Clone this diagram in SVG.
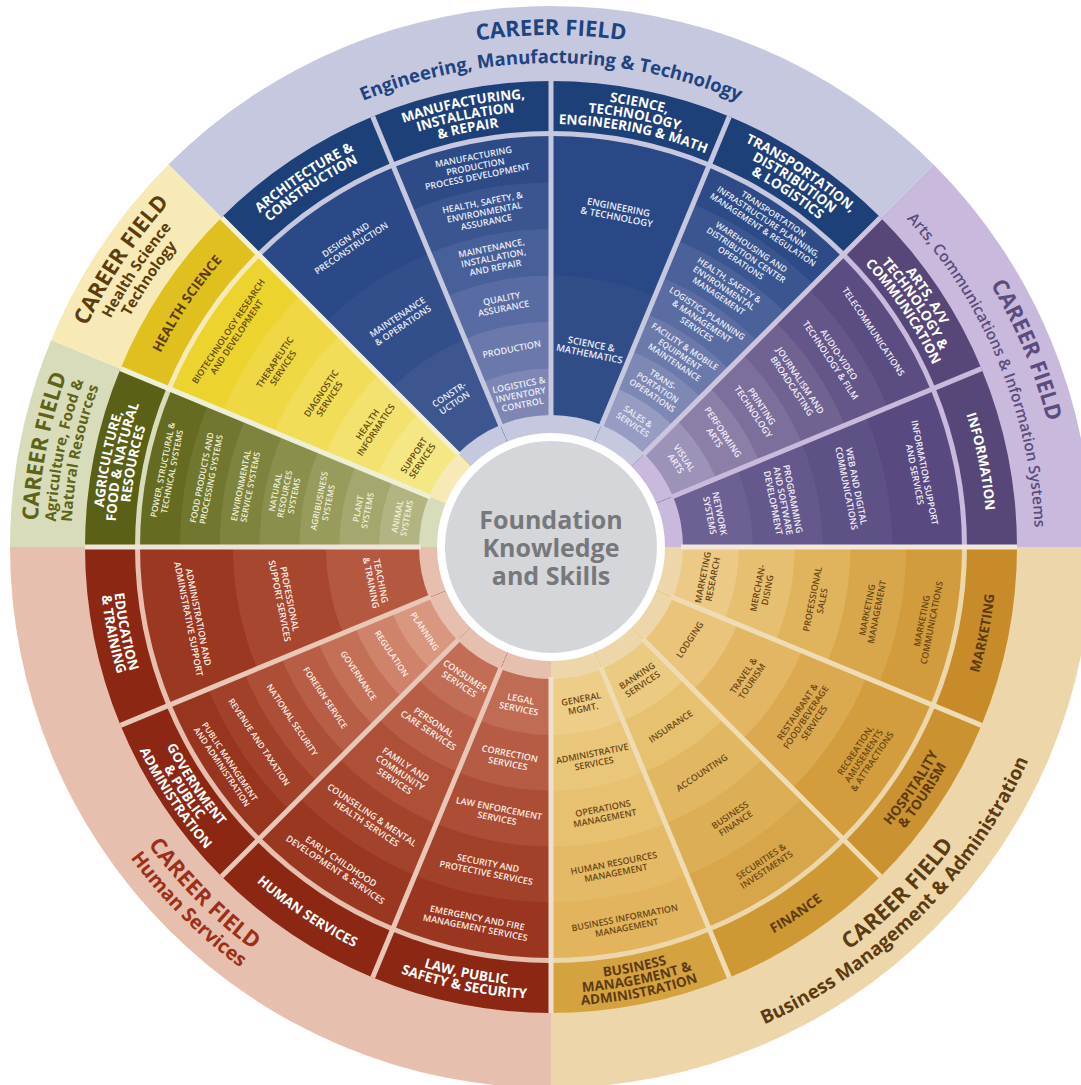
<svg xmlns="http://www.w3.org/2000/svg" width="1081" height="1085" viewBox="0 0 1081 1085">
<style>
text{font-family:'Open Sans','Liberation Sans',sans-serif;text-anchor:middle}
.cl{font-weight:700;font-size:13.5px}
.pw{font-weight:600;font-size:9px}
.p7{font-weight:600;font-size:8.5px}
.cf{font-weight:700;font-size:22px}
.sub{font-weight:700;font-size:18.5px}
.wt{fill:#ffffff}
.pe{fill:#e9ecf6}
.pa{fill:#f1edf8}
.pb{fill:#6a4716}
.cb{fill:#5d3b0f}
.ph{fill:#fbefe9}
.pg{fill:#eef0d8}
.py{fill:#5e4a10}
.sep line{stroke-width:5}
</style>
<defs>
<clipPath id="w"><path d="M0 0L-91.69 -460.97A470 470 0 0 1 91.69 -460.97Z"/></clipPath>
<path id="cT423" d="M-211.5 -366.3A423 423 0 0 1 211.5 -366.3"/>
<path id="cT430" d="M-215 -372.4A430 430 0 0 1 215 -372.4"/>
<path id="cT436" d="M-218 -377.6A436 436 0 0 1 218 -377.6"/>
<path id="cT443" d="M-221.5 -383.6A443 443 0 0 1 221.5 -383.6"/>
<path id="cT449" d="M-224.5 -388.8A449 449 0 0 1 224.5 -388.8"/>
<path id="cB433" d="M-216.5 375A433 433 0 0 0 216.5 375"/>
<path id="cB439" d="M-219.5 380.2A439 439 0 0 0 219.5 380.2"/>
<path id="cB446" d="M-223 386.2A446 446 0 0 0 223 386.2"/>
<path id="cB452" d="M-226 391.4A452 452 0 0 0 226 391.4"/>
<path id="cB459" d="M-229.5 397.5A459 459 0 0 0 229.5 397.5"/>
<path id="fT512" d="M-329.1 -392.2A512 512 0 0 1 329.1 -392.2"/>
<path id="fT484" d="M-311.1 -370.7A484 484 0 0 1 311.1 -370.7"/>
<path id="fT514" d="M-330.4 -393.7A514 514 0 0 1 330.4 -393.7"/>
<path id="fT496" d="M-318.8 -379.9A496 496 0 0 1 318.8 -379.9"/>
<path id="fT480" d="M-308.5 -367.7A480 480 0 0 1 308.5 -367.7"/>
<path id="fB501" d="M-322 383.8A501 501 0 0 0 322 383.8"/>
<path id="fB523" d="M-336.2 400.6A523 523 0 0 0 336.2 400.6"/>
</defs>
<rect width="1081" height="1085" fill="#ffffff"/>

<g id="career-fields">
<path id="field-engineering" d="M551 547L168.46 164.46A541 541 0 0 1 933.54 164.46Z" fill="#c6c8df"/>
<path id="field-arts" d="M551 547L933.54 164.46A541 541 0 0 1 1092 547Z" fill="#c9b9dc"/>
<path id="field-business" d="M551 547L1092 547A541 541 0 0 1 551 1088Z" fill="#eed6ab"/>
<path id="field-human" d="M551 547L551 1088A541 541 0 0 1 10 547Z" fill="#e7bfae"/>
<path id="field-agriculture" d="M551 547L10 547A541 541 0 0 1 51.18 339.97Z" fill="#d9dcbb"/>
<path id="field-health" d="M551 547L51.18 339.97A541 541 0 0 1 168.46 164.46Z" fill="#f7eab6"/>
</g>

<g id="architecture-construction">
<g transform="translate(551 547) rotate(-33.75)"><g clip-path="url(#w)">
<circle r="466" fill="#1e4079"/><circle r="416" fill="#c6c8df"/>
<circle r="411" fill="#2b4986"/><circle r="318" fill="#334f8b"/><circle r="225" fill="#3d5690"/>
<circle r="132" fill="#c6c8df"/></g>
<text class="cl wt"><textPath href="#cT443" startOffset="50%">ARCHITECTURE &amp;</textPath></text>
<text class="cl wt"><textPath href="#cT430" startOffset="50%">CONSTRUCTION</textPath></text>
<text class="pw pe" x="0" y="-366.3">DESIGN AND<tspan x="0" dy="10">PRECONSTRUCTION</tspan></text>
<text class="pw pe" x="0" y="-273.3">MAINTENANCE<tspan x="0" dy="10">&amp; OPERATIONS</tspan></text>
<text class="pw pe" x="0" y="-180.3">CONSTR-<tspan x="0" dy="10">UCTION</tspan></text>
</g></g>

<g id="manufacturing">
<g transform="translate(551 547) rotate(-11.25)"><g clip-path="url(#w)">
<circle r="466" fill="#1e4079"/><circle r="416" fill="#c6c8df"/>
<circle r="411" fill="#2e4b87"/><circle r="364.5" fill="#3a5590"/><circle r="318" fill="#47609a"/><circle r="271.5" fill="#586ba2"/><circle r="225" fill="#6a78ab"/><circle r="178.5" fill="#7e87b4"/>
<circle r="132" fill="#c6c8df"/></g>
<text class="cl wt"><textPath href="#cT449" startOffset="50%">MANUFACTURING,</textPath></text>
<text class="cl wt"><textPath href="#cT436" startOffset="50%">INSTALLATION</textPath></text>
<text class="cl wt"><textPath href="#cT423" startOffset="50%">&amp; REPAIR</textPath></text>
<text class="pw pe" x="0" y="-394.6">MANUFACTURING<tspan x="0" dy="10">PRODUCTION</tspan><tspan x="0" dy="10">PROCESS DEVELOPMENT</tspan></text>
<text class="pw pe" x="0" y="-348.1">HEALTH, SAFETY, &amp;<tspan x="0" dy="10">ENVIRONMENTAL</tspan><tspan x="0" dy="10">ASSURANCE</tspan></text>
<text class="pw pe" x="0" y="-301.6">MAINTENANCE,<tspan x="0" dy="10">INSTALLATION,</tspan><tspan x="0" dy="10">AND REPAIR</tspan></text>
<text class="pw pe" x="0" y="-250.1">QUALITY<tspan x="0" dy="10">ASSURANCE</tspan></text>
<text class="pw pe" x="0" y="-198.6">PRODUCTION</text>
<text class="pw pe" x="0" y="-162.1">LOGISTICS &amp;<tspan x="0" dy="10">INVENTORY</tspan><tspan x="0" dy="10">CONTROL</tspan></text>
</g></g>

<g id="stem">
<g transform="translate(551 547) rotate(11.25)"><g clip-path="url(#w)">
<circle r="466" fill="#1e4079"/><circle r="416" fill="#c6c8df"/>
<circle r="411" fill="#2a4885"/><circle r="271.5" fill="#304d88"/>
<circle r="132" fill="#c6c8df"/></g>
<text class="cl wt"><textPath href="#cT449" startOffset="50%">SCIENCE,</textPath></text>
<text class="cl wt"><textPath href="#cT436" startOffset="50%">TECHNOLOGY,</textPath></text>
<text class="cl wt"><textPath href="#cT423" startOffset="50%">ENGINEERING &amp; MATH</textPath></text>
<text class="pw pe" x="0" y="-343.1" style="font-size:9.5px">ENGINEERING<tspan x="0" dy="10">&amp; TECHNOLOGY</tspan></text>
<text class="pw pe" x="0" y="-203.6" style="font-size:9.5px">SCIENCE &amp;<tspan x="0" dy="10">MATHEMATICS</tspan></text>
</g></g>

<g id="transportation">
<g transform="translate(551 547) rotate(33.75)"><g clip-path="url(#w)">
<circle r="466" fill="#1e4079"/><circle r="416" fill="#c6c8df"/>
<circle r="411" fill="#2e4b87"/><circle r="371.1" fill="#3b5590"/><circle r="331.3" fill="#4a6199"/><circle r="291.4" fill="#5a6ca2"/><circle r="251.6" fill="#6b7aab"/><circle r="211.7" fill="#7e88b4"/><circle r="171.9" fill="#979cc2"/>
<circle r="132" fill="#c6c8df"/></g>
<text class="cl wt"><textPath href="#cT449" startOffset="50%">TRANSPORTATION,</textPath></text>
<text class="cl wt"><textPath href="#cT436" startOffset="50%">DISTRIBUTION</textPath></text>
<text class="cl wt"><textPath href="#cT423" startOffset="50%">&amp; LOGISTICS</textPath></text>
<text class="p7 pe" x="0" y="-397.6">TRANSPORTATION<tspan x="0" dy="9.5">INFRASTRUCTURE PLANNING,</tspan><tspan x="0" dy="9.5">MANAGEMENT &amp; REGULATION</tspan></text>
<text class="p7 pe" x="0" y="-357.7">WAREHOUSING AND<tspan x="0" dy="9.5">DISTRIBUTION CENTER</tspan><tspan x="0" dy="9.5">OPERATIONS</tspan></text>
<text class="p7 pe" x="0" y="-317.9">HEALTH, SAFETY &amp;<tspan x="0" dy="9.5">ENVIRONMENTAL</tspan><tspan x="0" dy="9.5">MANAGEMENT</tspan></text>
<text class="p7 pe" x="0" y="-278">LOGISTICS PLANNING<tspan x="0" dy="9.5">&amp; MANAGEMENT</tspan><tspan x="0" dy="9.5">SERVICES</tspan></text>
<text class="p7 pe" x="0" y="-238.1">FACILITY &amp; MOBILE<tspan x="0" dy="9.5">EQUIPMENT</tspan><tspan x="0" dy="9.5">MAINTENANCE</tspan></text>
<text class="p7 pe" x="0" y="-198.3">TRANS-<tspan x="0" dy="9.5">PORTATION</tspan><tspan x="0" dy="9.5">OPERATIONS</tspan></text>
<text class="p7 pe" x="0" y="-153.7">SALES &amp;<tspan x="0" dy="9.5">SERVICES</tspan></text>
</g></g>

<g id="arts-av">
<g transform="translate(551 547) rotate(56.25)"><g clip-path="url(#w)">
<circle r="466" fill="#574779"/><circle r="416" fill="#c9b9dc"/>
<circle r="411" fill="#5b4c82"/><circle r="364.5" fill="#655689"/><circle r="318" fill="#706291"/><circle r="271.5" fill="#7c6f9b"/><circle r="225" fill="#8b7fa8"/><circle r="178.5" fill="#9d92b8"/>
<circle r="132" fill="#c9b9dc"/></g>
<text class="cl wt"><textPath href="#cT449" startOffset="50%">ARTS, A/V</textPath></text>
<text class="cl wt"><textPath href="#cT436" startOffset="50%">TECHNOLOGY &amp;</textPath></text>
<text class="cl wt"><textPath href="#cT423" startOffset="50%">COMMUNICATION</textPath></text>
<text class="pw pa" x="0" y="-384.6">TELECOMMUNICATIONS</text>
<text class="pw pa" x="0" y="-343.1">AUDIO-VIDEO<tspan x="0" dy="10">TECHNOLOGY &amp; FILM</tspan></text>
<text class="pw pa" x="0" y="-296.6">JOURNALISM AND<tspan x="0" dy="10">BROADCASTING</tspan></text>
<text class="pw pa" x="0" y="-250.1">PRINTING<tspan x="0" dy="10">TECHNOLOGY</tspan></text>
<text class="pw pa" x="0" y="-203.6">PERFORMING<tspan x="0" dy="10">ARTS</tspan></text>
<text class="pw pa" x="0" y="-157.1">VISUAL<tspan x="0" dy="10">ARTS</tspan></text>
</g></g>

<g id="information">
<g transform="translate(551 547) rotate(78.75)"><g clip-path="url(#w)">
<circle r="466" fill="#574779"/><circle r="416" fill="#c9b9dc"/>
<circle r="411" fill="#584a80"/><circle r="341.25" fill="#5e5186"/><circle r="271.5" fill="#65588c"/><circle r="201.75" fill="#6d6093"/>
<circle r="132" fill="#c9b9dc"/></g>
<text class="cl wt"><textPath href="#cT436" startOffset="50%">INFORMATION</textPath></text>
<text class="pw pa" x="0" y="-377.9">INFORMATION SUPPORT<tspan x="0" dy="10">AND SERVICES</tspan></text>
<text class="pw pa" x="0" y="-308.2">WEB AND DIGITAL<tspan x="0" dy="10">COMMUNICATIONS</tspan></text>
<text class="pw pa" x="0" y="-243.4">PROGRAMMING<tspan x="0" dy="10">AND SOFTWARE</tspan><tspan x="0" dy="10">DEVELOPMENT</tspan></text>
<text class="pw pa" x="0" y="-168.7">NETWORK<tspan x="0" dy="10">SYSTEMS</tspan></text>
</g></g>

<g id="marketing">
<g transform="translate(551 547) rotate(101.25)"><g clip-path="url(#w)">
<circle r="466" fill="#c78c29"/><circle r="416" fill="#eed6ab"/>
<circle r="411" fill="#d29b3c"/><circle r="355.2" fill="#d9a74b"/><circle r="299.4" fill="#e0b35d"/><circle r="243.6" fill="#e6bf70"/><circle r="187.8" fill="#ecca86"/>
<circle r="132" fill="#eed6ab"/></g></g>
<g transform="translate(551 547) rotate(-78.75)">
<text class="cl cb"><textPath href="#cB446" startOffset="50%">MARKETING</textPath></text>
<text class="pw pb" x="0" y="381.3">MARKETING<tspan x="0" dy="10">COMMUNICATIONS</tspan></text>
<text class="pw pb" x="0" y="325.5">MARKETING<tspan x="0" dy="10">MANAGEMENT</tspan></text>
<text class="pw pb" x="0" y="269.7">PROFESSIONAL<tspan x="0" dy="10">SALES</tspan></text>
<text class="pw pb" x="0" y="213.9">MERCHAN-<tspan x="0" dy="10">DISING</tspan></text>
<text class="pw pb" x="0" y="158.1">MARKETING<tspan x="0" dy="10">RESEARCH</tspan></text>
</g></g>

<g id="hospitality-tourism">
<g transform="translate(551 547) rotate(123.75)"><g clip-path="url(#w)">
<circle r="466" fill="#ca9230"/><circle r="416" fill="#eed6ab"/>
<circle r="411" fill="#d39d3e"/><circle r="341.25" fill="#dba94f"/><circle r="271.5" fill="#e2b663"/><circle r="201.75" fill="#e9c47a"/>
<circle r="132" fill="#eed6ab"/></g></g>
<g transform="translate(551 547) rotate(-56.25)">
<text class="cl cb"><textPath href="#cB439" startOffset="50%">HOSPITALITY</textPath></text>
<text class="cl cb"><textPath href="#cB452" startOffset="50%">&amp; TOURISM</textPath></text>
<text class="pw pb" x="0" y="369.3">RECREATION,<tspan x="0" dy="10">AMUSEMENTS</tspan><tspan x="0" dy="10">&amp; ATTRACTIONS</tspan></text>
<text class="pw pb" x="0" y="299.6">RESTAURANT &amp;<tspan x="0" dy="10">FOOD/BEVERAGE</tspan><tspan x="0" dy="10">SERVICES</tspan></text>
<text class="pw pb" x="0" y="234.8">TRAVEL &amp;<tspan x="0" dy="10">TOURISM</tspan></text>
<text class="pw pb" x="0" y="170.1">LODGING</text>
</g></g>

<g id="finance">
<g transform="translate(551 547) rotate(146.25)"><g clip-path="url(#w)">
<circle r="466" fill="#ce9834"/><circle r="416" fill="#eed6ab"/>
<circle r="411" fill="#d8a64a"/><circle r="355.2" fill="#dcae55"/><circle r="299.4" fill="#e1b762"/><circle r="243.6" fill="#e6c170"/><circle r="187.8" fill="#ebcb82"/>
<circle r="132" fill="#eed6ab"/></g></g>
<g transform="translate(551 547) rotate(-33.75)">
<text class="cl cb"><textPath href="#cB446" startOffset="50%">FINANCE</textPath></text>
<text class="pw pb" x="0" y="381.3">SECURITIES &amp;<tspan x="0" dy="10">INVESTMENTS</tspan></text>
<text class="pw pb" x="0" y="325.5">BUSINESS<tspan x="0" dy="10">FINANCE</tspan></text>
<text class="pw pb" x="0" y="274.7">ACCOUNTING</text>
<text class="pw pb" x="0" y="218.9">INSURANCE</text>
<text class="pw pb" x="0" y="158.1">BANKING<tspan x="0" dy="10">SERVICES</tspan></text>
</g></g>

<g id="business-management">
<g transform="translate(551 547) rotate(168.75)"><g clip-path="url(#w)">
<circle r="466" fill="#d5a240"/><circle r="416" fill="#eed6ab"/>
<circle r="411" fill="#e1b45d"/><circle r="355.2" fill="#e4ba66"/><circle r="299.4" fill="#e7c070"/><circle r="243.6" fill="#eac67b"/><circle r="187.8" fill="#edcd88"/>
<circle r="132" fill="#eed6ab"/></g></g>
<g transform="translate(551 547) rotate(-11.25)">
<text class="cl cb"><textPath href="#cB433" startOffset="50%">BUSINESS</textPath></text>
<text class="cl cb"><textPath href="#cB446" startOffset="50%">MANAGEMENT &amp;</textPath></text>
<text class="cl cb"><textPath href="#cB459" startOffset="50%">ADMINISTRATION</textPath></text>
<text class="pw pb" x="0" y="381.3">BUSINESS INFORMATION<tspan x="0" dy="10">MANAGEMENT</tspan></text>
<text class="pw pb" x="0" y="325.5">HUMAN RESOURCES<tspan x="0" dy="10">MANAGEMENT</tspan></text>
<text class="pw pb" x="0" y="269.7">OPERATIONS<tspan x="0" dy="10">MANAGEMENT</tspan></text>
<text class="pw pb" x="0" y="213.9">ADMINISTRATIVE<tspan x="0" dy="10">SERVICES</tspan></text>
<text class="pw pb" x="0" y="158.1">GENERAL<tspan x="0" dy="10">MGMT.</tspan></text>
</g></g>

<g id="law-public-safety">
<g transform="translate(551 547) rotate(191.25)"><g clip-path="url(#w)">
<circle r="466" fill="#8c2714"/><circle r="416" fill="#e7bfae"/>
<circle r="411" fill="#9a3620"/><circle r="355.2" fill="#a2412a"/><circle r="299.4" fill="#ac4e36"/><circle r="243.6" fill="#b65c44"/><circle r="187.8" fill="#c06b53"/>
<circle r="132" fill="#e7bfae"/></g></g>
<g transform="translate(551 547) rotate(11.25)">
<text class="cl wt"><textPath href="#cB439" startOffset="50%">LAW, PUBLIC</textPath></text>
<text class="cl wt"><textPath href="#cB452" startOffset="50%">SAFETY &amp; SECURITY</textPath></text>
<text class="pw ph" x="0" y="381.3">EMERGENCY AND FIRE<tspan x="0" dy="10">MANAGEMENT SERVICES</tspan></text>
<text class="pw ph" x="0" y="325.5">SECURITY AND<tspan x="0" dy="10">PROTECTIVE SERVICES</tspan></text>
<text class="pw ph" x="0" y="269.7">LAW ENFORCEMENT<tspan x="0" dy="10">SERVICES</tspan></text>
<text class="pw ph" x="0" y="213.9">CORRECTION<tspan x="0" dy="10">SERVICES</tspan></text>
<text class="pw ph" x="0" y="158.1">LEGAL<tspan x="0" dy="10">SERVICES</tspan></text>
</g></g>

<g id="human-services">
<g transform="translate(551 547) rotate(213.75)"><g clip-path="url(#w)">
<circle r="466" fill="#8c2714"/><circle r="416" fill="#e7bfae"/>
<circle r="411" fill="#9a3720"/><circle r="355.2" fill="#a4432b"/><circle r="299.4" fill="#ae5038"/><circle r="243.6" fill="#b85e46"/><circle r="187.8" fill="#c26d55"/>
<circle r="132" fill="#e7bfae"/></g></g>
<g transform="translate(551 547) rotate(33.75)">
<text class="cl wt"><textPath href="#cB446" startOffset="50%">HUMAN SERVICES</textPath></text>
<text class="pw ph" x="0" y="381.3">EARLY CHILDHOOD<tspan x="0" dy="10">DEVELOPMENT &amp; SERVICES</tspan></text>
<text class="pw ph" x="0" y="325.5">COUNSELING &amp; MENTAL<tspan x="0" dy="10">HEALTH SERVICES</tspan></text>
<text class="pw ph" x="0" y="264.7">FAMILY AND<tspan x="0" dy="10">COMMUNITY</tspan><tspan x="0" dy="10">SERVICES</tspan></text>
<text class="pw ph" x="0" y="213.9">PERSONAL<tspan x="0" dy="10">CARE SERVICES</tspan></text>
<text class="pw ph" x="0" y="158.1">CONSUMER<tspan x="0" dy="10">SERVICES</tspan></text>
</g></g>

<g id="government-public-administration">
<g transform="translate(551 547) rotate(236.25)"><g clip-path="url(#w)">
<circle r="466" fill="#8c2714"/><circle r="416" fill="#e7bfae"/>
<circle r="411" fill="#98351f"/><circle r="371.1" fill="#a2412a"/><circle r="331.3" fill="#ad4f37"/><circle r="291.4" fill="#b85e46"/><circle r="251.6" fill="#c47057"/><circle r="211.7" fill="#cf836a"/><circle r="171.9" fill="#d9977f"/>
<circle r="132" fill="#e7bfae"/></g></g>
<g transform="translate(551 547) rotate(56.25)">
<text class="cl wt"><textPath href="#cB433" startOffset="50%">GOVERNMENT</textPath></text>
<text class="cl wt"><textPath href="#cB446" startOffset="50%">&amp; PUBLIC</textPath></text>
<text class="cl wt"><textPath href="#cB459" startOffset="50%">ADMINISTRATION</textPath></text>
<text class="p7 ph" x="0" y="389.4">PUBLIC MANAGEMENT<tspan x="0" dy="9.5">AND ADMINISTRATION</tspan></text>
<text class="p7 ph" x="0" y="354.2">REVENUE AND TAXATION</text>
<text class="p7 ph" x="0" y="314.4">NATIONAL SECURITY</text>
<text class="p7 ph" x="0" y="274.5">FOREIGN SERVICE</text>
<text class="p7 ph" x="0" y="234.6">GOVERNANCE</text>
<text class="p7 ph" x="0" y="194.8">REGULATION</text>
<text class="p7 ph" x="0" y="154.9">PLANNING</text>
</g></g>

<g id="education-training">
<g transform="translate(551 547) rotate(258.75)"><g clip-path="url(#w)">
<circle r="466" fill="#8c2714"/><circle r="416" fill="#e7bfae"/>
<circle r="411" fill="#9b3821"/><circle r="318" fill="#a7472f"/><circle r="225" fill="#b4583f"/>
<circle r="132" fill="#e7bfae"/></g></g>
<g transform="translate(551 547) rotate(78.75)">
<text class="cl wt"><textPath href="#cB439" startOffset="50%">EDUCATION</textPath></text>
<text class="cl wt"><textPath href="#cB452" startOffset="50%">&amp; TRAINING</textPath></text>
<text class="pw ph" x="0" y="362.7">ADMINISTRATION AND<tspan x="0" dy="10">ADMINISTRATIVE SUPPORT</tspan></text>
<text class="pw ph" x="0" y="269.7">PROFESSIONAL<tspan x="0" dy="10">SUPPORT SERVICES</tspan></text>
<text class="pw ph" x="0" y="176.7">TEACHING<tspan x="0" dy="10">&amp; TRAINING</tspan></text>
</g></g>

<g id="agriculture">
<g transform="translate(551 547) rotate(-78.75)"><g clip-path="url(#w)">
<circle r="466" fill="#5b6017"/><circle r="416" fill="#d9dcbb"/>
<circle r="411" fill="#666b22"/><circle r="371.1" fill="#72772f"/><circle r="331.3" fill="#7e833d"/><circle r="291.4" fill="#8a8f4c"/><circle r="251.6" fill="#979b5c"/><circle r="211.7" fill="#a4a86e"/><circle r="171.9" fill="#b2b582"/>
<circle r="132" fill="#d9dcbb"/></g>
<text class="cl wt"><textPath href="#cT449" startOffset="50%">AGRICULTURE,</textPath></text>
<text class="cl wt"><textPath href="#cT436" startOffset="50%">FOOD &amp; NATURAL</textPath></text>
<text class="cl wt"><textPath href="#cT423" startOffset="50%">RESOURCES</textPath></text>
<text class="p7 pg" x="0" y="-392.9">POWER, STRUCTURAL &amp;<tspan x="0" dy="9.5">TECHNICAL SYSTEMS</tspan></text>
<text class="p7 pg" x="0" y="-353">FOOD PRODUCTS AND<tspan x="0" dy="9.5">PROCESSING SYSTEMS</tspan></text>
<text class="p7 pg" x="0" y="-313.2">ENVIRONMENTAL<tspan x="0" dy="9.5">SERVICE SYSTEMS</tspan></text>
<text class="p7 pg" x="0" y="-278">NATURAL<tspan x="0" dy="9.5">RESOURCES</tspan><tspan x="0" dy="9.5">SYSTEMS</tspan></text>
<text class="p7 pg" x="0" y="-233.4">AGRIBUSINESS<tspan x="0" dy="9.5">SYSTEMS</tspan></text>
<text class="p7 pg" x="0" y="-193.6">PLANT<tspan x="0" dy="9.5">SYSTEMS</tspan></text>
<text class="p7 pg" x="0" y="-153.7">ANIMAL<tspan x="0" dy="9.5">SYSTEMS</tspan></text>
</g></g>

<g id="health-science">
<g transform="translate(551 547) rotate(-56.25)"><g clip-path="url(#w)">
<circle r="466" fill="#e0c01e"/><circle r="416" fill="#f7eab6"/>
<circle r="411" fill="#edd32e"/><circle r="355.2" fill="#efd843"/><circle r="299.4" fill="#f1dd58"/><circle r="243.6" fill="#f3e26d"/><circle r="187.8" fill="#f5e784"/>
<circle r="132" fill="#f7eab6"/></g>
<text class="cl" fill="#5a3d0c"><textPath href="#cT436" startOffset="50%">HEALTH SCIENCE</textPath></text>
<text class="pw py" x="0" y="-384.9">BIOTECHNOLOGY RESEARCH<tspan x="0" dy="10">AND DEVELOPMENT</tspan></text>
<text class="pw py" x="0" y="-329.1">THERAPEUTIC<tspan x="0" dy="10">SERVICES</tspan></text>
<text class="pw py" x="0" y="-273.3">DIAGNOSTIC<tspan x="0" dy="10">SERVICES</tspan></text>
<text class="pw py" x="0" y="-217.5">HEALTH<tspan x="0" dy="10">INFORMATICS</tspan></text>
<text class="pw py" x="0" y="-161.7">SUPPORT<tspan x="0" dy="10">SERVICES</tspan></text>
</g></g>

<g id="separators" class="sep" transform="translate(551 547)">
<line y1="-130" y2="-466" stroke="#c6c8df"/>
<line y1="-130" y2="-466" stroke="#c6c8df" transform="rotate(22.5)"/>
<line y1="-130" y2="-466" stroke="#cdc5e0" transform="rotate(45)"/>
<line y1="-130" y2="-466" stroke="#c9b9dc" transform="rotate(67.5)"/>
<line y1="-130" y2="-466" stroke="#f1e7da" transform="rotate(90)"/>
<line y1="-130" y2="-466" stroke="#f0dcb4" transform="rotate(112.5)"/>
<line y1="-130" y2="-466" stroke="#f0dcb4" transform="rotate(135)"/>
<line y1="-130" y2="-466" stroke="#f0dcb4" transform="rotate(157.5)"/>
<line y1="-130" y2="-466" stroke="#f0dfcc" transform="rotate(180)"/>
<line y1="-130" y2="-466" stroke="#eac6b6" transform="rotate(202.5)"/>
<line y1="-130" y2="-466" stroke="#eac6b6" transform="rotate(225)"/>
<line y1="-130" y2="-466" stroke="#eac6b6" transform="rotate(247.5)"/>
<line y1="-130" y2="-466" stroke="#f0e3d8" transform="rotate(270)"/>
<line y1="-130" y2="-466" stroke="#eef0d6" transform="rotate(292.5)"/>
<line y1="-130" y2="-466" stroke="#f3efcf" transform="rotate(315)"/>
<line y1="-130" y2="-466" stroke="#c6c8df" transform="rotate(337.5)"/>
</g>

<g id="career-field-labels">
<g id="label-engineering" transform="translate(551 547)" fill="#1f437f">
<text class="cf"><textPath href="#fT512" startOffset="50%">CAREER FIELD</textPath></text>
<text class="sub"><textPath href="#fT484" startOffset="50%">Engineering, Manufacturing &amp; Technology</textPath></text>
</g>
<g id="label-arts" transform="translate(551 547) rotate(67.5)" fill="#5a4c7e">
<text class="cf"><textPath href="#fT512" startOffset="50%">CAREER FIELD</textPath></text>
<text class="sub" style="font-size:15.5px;font-weight:600"><textPath href="#fT484" startOffset="50%">Arts, Communications &amp; Information Systems</textPath></text>
</g>
<g id="label-business" transform="translate(551 547) rotate(-45)" fill="#5b3b12">
<text class="cf"><textPath href="#fB501" startOffset="50%">CAREER FIELD</textPath></text>
<text class="sub" style="font-size:19px"><textPath href="#fB523" startOffset="50%">Business Management &amp; Administration</textPath></text>
</g>
<g id="label-human" transform="translate(551 547) rotate(45)" fill="#9b2f18">
<text class="cf"><textPath href="#fB501" startOffset="50%">CAREER FIELD</textPath></text>
<text class="sub" style="font-size:19.5px"><textPath href="#fB523" startOffset="50%">Human Services</textPath></text>
</g>
<g id="label-agriculture" transform="translate(551 547) rotate(-78.75)" fill="#5d6418">
<text class="cf"><textPath href="#fT514" startOffset="50%">CAREER FIELD</textPath></text>
<text class="sub" style="font-size:15px"><textPath href="#fT496" startOffset="50%">Agriculture, Food &amp;</textPath></text>
<text class="sub" style="font-size:15px"><textPath href="#fT480" startOffset="50%">Natural Resources</textPath></text>
</g>
<g id="label-health" transform="translate(551 547) rotate(-56.25)" fill="#5b3d0c">
<text class="cf"><textPath href="#fT514" startOffset="50%">CAREER FIELD</textPath></text>
<text class="sub" style="font-size:15px"><textPath href="#fT496" startOffset="50%">Health Science</textPath></text>
<text class="sub" style="font-size:15px"><textPath href="#fT480" startOffset="50%">Technology</textPath></text>
</g>
</g>

<g id="foundation">
<circle cx="551" cy="547" r="110" fill="#d5d6d9" stroke="#ffffff" stroke-width="8"/>
<text x="551" y="529" fill="#77787b" style="font-weight:700;font-size:25px">Foundation<tspan x="551" dy="28">Knowledge</tspan><tspan x="551" dy="28">and Skills</tspan></text>
</g>
</svg>
